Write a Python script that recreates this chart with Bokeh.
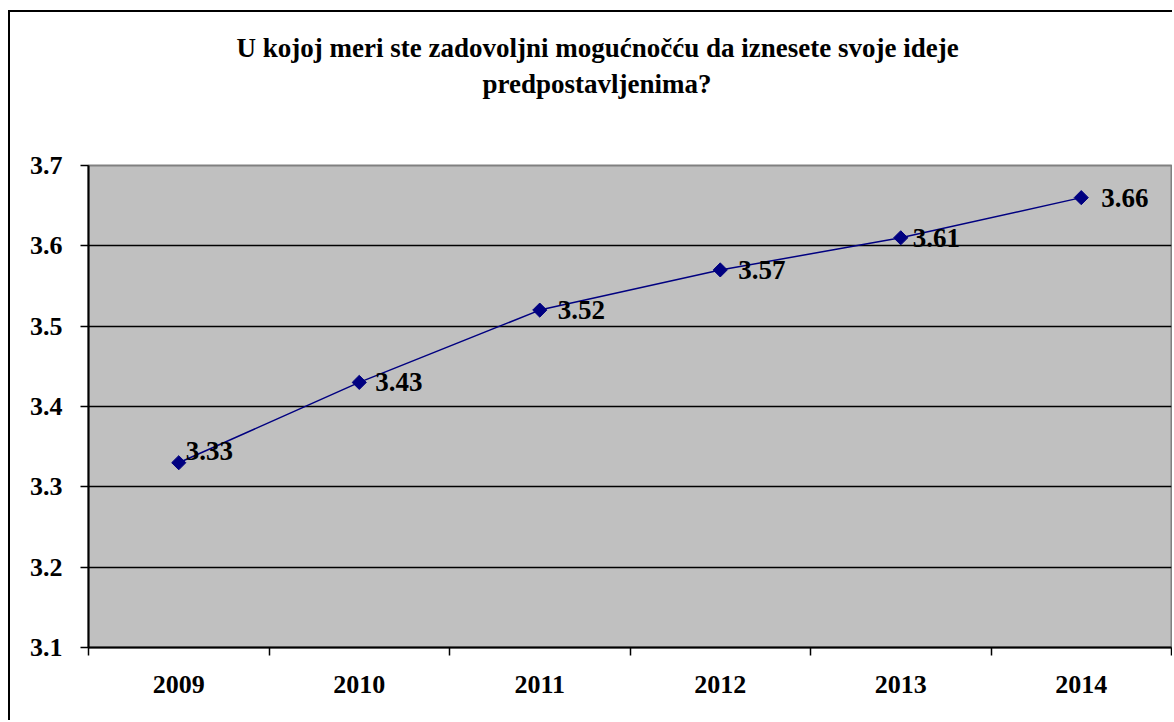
from bokeh.plotting import figure
from bokeh.models import Range1d, FixedTicker, ColumnDataSource, Title
from bokeh.core.properties import value
from bokeh.embed import file_html
from bokeh.resources import INLINE
import math

years = ["2009", "2010", "2011", "2012", "2013", "2014"]
scores = [3.33, 3.43, 3.52, 3.57, 3.61, 3.66]
score_labels = ["3.33", "3.43", "3.52", "3.57", "3.61", "3.66"]
y_ticks = [3.1, 3.2, 3.3, 3.4, 3.5, 3.6, 3.7]
title_line1 = "U kojoj meri ste zadovoljni mogućnočću da iznesete svoje ideje"
title_line2 = "predpostavljenima?"

# label placement style (pixels)
label_dx = [7, 16, 18, 18, 12, 20]
label_dy = [-12, 0, 0, 0, 0, 0]

FONT = "Liberation Serif"
NAVY = "#000080"

xs = [i + 0.5 for i in range(len(years))]
src = ColumnDataSource(dict(x=xs, y=scores, lab=score_labels, dx=label_dx, dy=label_dy))

p = figure(width=1164, height=710, output_backend="svg", toolbar_location=None,
           title=None,
           x_range=Range1d(0, len(years)), y_range=Range1d(3.1, 3.7),
           min_border_left=78, min_border_right=3, min_border_top=153, min_border_bottom=75)
p.styles = {"border-left": "2px solid black", "border-top": "2px solid black",
            "margin-top": "10px", "margin-left": "8px"}

p.background_fill_color = "#C0C0C0"
p.border_fill_color = "white"
p.outline_line_color = "#808080"
p.outline_line_width = 2

spacer = Title(text=" ", text_font=FONT, text_font_size="27px", align="left", standoff=31)
t2 = Title(text=title_line2, text_font=FONT, text_font_style="bold", text_font_size="27px",
           text_color="black", align="left", offset=394, standoff=7)
t1 = Title(text=title_line1, text_font=FONT, text_font_style="bold", text_font_size="27px",
           text_color="black", align="left", offset=148, standoff=1)
p.add_layout(spacer, "above")
p.add_layout(t2, "above")
p.add_layout(t1, "above")

# x axis: labels at category centres, tick marks at boundaries
xa = p.xaxis[0]
xa.ticker = FixedTicker(ticks=xs, minor_ticks=list(range(len(years) + 1)))
xa.major_label_overrides = {x: y for x, y in zip(xs, years)}
xa.major_tick_out = 0
xa.major_tick_in = 0
xa.minor_tick_out = 8
xa.minor_tick_in = 0
xa.minor_tick_line_color = "black"
xa.minor_tick_line_width = 1.5
xa.axis_line_color = "black"
xa.axis_line_width = 2
xa.major_label_text_font = FONT
xa.major_label_text_font_style = "bold"
xa.major_label_text_font_size = "26px"
xa.major_label_text_color = "black"
xa.major_label_standoff = 20

ya = p.yaxis[0]
ya.ticker = FixedTicker(ticks=y_ticks)
ya.major_tick_out = 8
ya.major_tick_in = 0
ya.major_tick_line_color = "black"
ya.major_tick_line_width = 1.5
ya.minor_tick_line_color = None
ya.axis_line_color = "black"
ya.axis_line_width = 2
ya.major_label_text_font = FONT
ya.major_label_text_font_style = "bold"
ya.major_label_text_font_size = "26px"
ya.major_label_text_color = "black"
ya.major_label_standoff = 18

p.xgrid.visible = False
p.ygrid.ticker = FixedTicker(ticks=y_ticks[1:-1])
p.ygrid.grid_line_color = "black"
p.ygrid.grid_line_width = 1.5

p.line("x", "y", source=src, line_color=NAVY, line_width=1.5)
p.scatter("x", "y", source=src, marker="square", angle=math.pi / 4, size=10,
          fill_color=NAVY, line_color=NAVY)
p.text("x", "y", text="lab", source=src, x_offset="dx", y_offset="dy",
       text_font=value(FONT), text_font_style="bold", text_font_size="27px",
       text_baseline="middle", text_align="left", text_color="black")

open("out.html", "w").write(file_html(p, INLINE))
